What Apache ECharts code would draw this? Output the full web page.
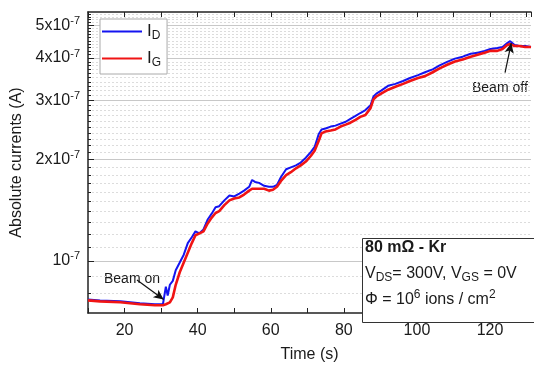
<!DOCTYPE html>
<html>
<head>
<meta charset="utf-8">
<script src="https://cdn.jsdelivr.net/npm/echarts@6/dist/echarts.min.js"></script>
<style>
  html, body { margin: 0; padding: 0; background: #fff; }
  #main { width: 534px; height: 368px; }
</style>
</head>
<body>
<div id="main"></div>
<script>
// time (s)
var time = [10, 13.3, 18.8, 24.2, 28.3, 30.5, 31.0, 31.3, 31.8, 32.4,
    33.2, 34.0, 35.1, 36.2, 37.3, 38.4, 39.4, 40.5, 41.6, 42.7,
    43.8, 44.9, 45.9, 47.3, 48.7, 50.0, 51.4, 52.7, 54.1, 54.9,
    55.7, 56.8, 58.2, 59.5, 60.6, 61.7, 62.8, 64.2, 65.5, 66.9,
    68.2, 69.6, 71.0, 72.0, 73.1, 73.9, 75.0, 76.4, 77.7, 79.1,
    80.5, 81.8, 83.2, 84.5, 85.9, 87.3, 88.1, 88.9, 90.2, 92.1,
    94.1, 96.2, 98.1, 100.3, 102.2, 104.3, 106.2, 108.4, 110.4, 112.5,
    114.7, 116.6, 118.5, 120.1, 122.0, 123.4, 124.7, 125.5, 126.7, 128.0,
    129.6, 131.2];

// drain current I_D (A)
var currentD = [7.68e-8, 7.63e-8, 7.58e-8, 7.48e-8, 7.43e-8, 7.43e-8, 7.48e-8, 8.38e-8, 7.89e-8, 8.49e-8,
    8.72e-8, 9.38e-8, 9.89e-8, 1.043e-7, 1.129e-7, 1.175e-7, 1.223e-7, 1.207e-7, 1.239e-7, 1.324e-7,
    1.378e-7, 1.443e-7, 1.453e-7, 1.512e-7, 1.563e-7, 1.553e-7, 1.584e-7, 1.616e-7, 1.659e-7, 1.738e-7,
    1.715e-7, 1.704e-7, 1.670e-7, 1.659e-7, 1.659e-7, 1.681e-7, 1.773e-7, 1.870e-7, 1.895e-7, 1.920e-7,
    1.958e-7, 2.024e-7, 2.107e-7, 2.178e-7, 2.374e-7, 2.455e-7, 2.471e-7, 2.504e-7, 2.520e-7, 2.554e-7,
    2.588e-7, 2.640e-7, 2.693e-7, 2.747e-7, 2.803e-7, 2.897e-7, 3.075e-7, 3.137e-7, 3.200e-7, 3.308e-7,
    3.352e-7, 3.420e-7, 3.489e-7, 3.558e-7, 3.630e-7, 3.703e-7, 3.802e-7, 3.905e-7, 3.984e-7, 4.038e-7,
    4.119e-7, 4.146e-7, 4.201e-7, 4.257e-7, 4.286e-7, 4.314e-7, 4.430e-7, 4.489e-7, 4.372e-7, 4.343e-7,
    4.343e-7, 4.314e-7];

// gate current I_G (A)
var currentG = [7.63e-8, 7.58e-8, 7.53e-8, 7.43e-8, 7.38e-8, 7.38e-8, 7.38e-8, 7.43e-8, 7.43e-8, 7.53e-8,
    7.79e-8, 8.49e-8, 9.25e-8, 9.89e-8, 1.057e-7, 1.129e-7, 1.191e-7, 1.207e-7, 1.223e-7, 1.289e-7,
    1.342e-7, 1.387e-7, 1.405e-7, 1.463e-7, 1.512e-7, 1.532e-7, 1.542e-7, 1.573e-7, 1.616e-7, 1.637e-7,
    1.637e-7, 1.637e-7, 1.637e-7, 1.616e-7, 1.626e-7, 1.659e-7, 1.727e-7, 1.797e-7, 1.833e-7, 1.882e-7,
    1.920e-7, 1.971e-7, 2.051e-7, 2.121e-7, 2.267e-7, 2.390e-7, 2.422e-7, 2.438e-7, 2.455e-7, 2.504e-7,
    2.537e-7, 2.571e-7, 2.623e-7, 2.676e-7, 2.711e-7, 2.840e-7, 3.015e-7, 3.075e-7, 3.137e-7, 3.222e-7,
    3.286e-7, 3.352e-7, 3.420e-7, 3.489e-7, 3.535e-7, 3.630e-7, 3.728e-7, 3.828e-7, 3.905e-7, 3.958e-7,
    4.038e-7, 4.091e-7, 4.146e-7, 4.201e-7, 4.201e-7, 4.257e-7, 4.372e-7, 4.401e-7, 4.343e-7, 4.343e-7,
    4.314e-7, 4.314e-7];

// y tick labels (major) and minor grid steps
var yMajor = [1e-7, 2e-7, 3e-7, 4e-7, 5e-7];
var yMinor = [8e-8, 9e-8];
for (var k = 11; k <= 54; k++) {
    if (k % 10 !== 0) yMinor.push(k * 1e-8);
}

// arrows: [start time, start current, end time, end current]
var beamOnArrow = [23.4, 8.77e-8, 30.7, 7.68e-8];
var beamOffArrow = [124.1, 3.62e-7, 125.8, 4.43e-7];

var font = 'Liberation Sans, Arial, sans-serif';
var ink = '#1a1a1a';
var dom = document.getElementById('main');
var myChart = echarts.init(dom);

var option = {
    animation: false,
    textStyle: { fontFamily: font },
    grid: { left: 88, top: 12, right: 0, bottom: 46 },
    legend: {
        data: ['ID', 'IG'],
        orient: 'vertical',
        left: 100,
        top: 19,
        padding: [4, 6, 5, 2],
        itemGap: 8,
        itemWidth: 40,
        itemHeight: 2,
        icon: 'rect',
        borderColor: '#aaa',
        borderWidth: 1,
        backgroundColor: '#fff',
        formatter: function (name) {
            return '{m|I}{sub|' + name.charAt(1) + '}';
        },
        textStyle: {
            rich: {
                m: { fontSize: 17, color: ink, fontFamily: font },
                sub: { fontSize: 12, color: ink, fontFamily: font, padding: [9, 0, 0, 0] }
            }
        }
    },
    xAxis: [{
        type: 'value',
        min: 10,
        max: 131.2,
        interval: 10,
        name: 'Time (s)',
        nameLocation: 'middle',
        nameGap: 34,
        nameTextStyle: { fontSize: 16, color: ink, fontFamily: font },
        axisLine: { show: true, lineStyle: { color: '#222', width: 1.5 } },
        axisTick: { inside: true, length: 5, lineStyle: { color: '#222' } },
        axisLabel: {
            fontSize: 16, color: ink, margin: 10, fontFamily: font,
            formatter: function (v) { return v % 20 === 0 ? String(v) : ''; }
        },
        splitLine: { show: false }
    }, {
        type: 'value',
        position: 'top',
        min: 10,
        max: 131.2,
        interval: 10,
        axisLine: { show: true, lineStyle: { color: '#222', width: 1.5 } },
        axisTick: { inside: true, length: 5, lineStyle: { color: '#222' } },
        axisLabel: { show: false },
        splitLine: { show: false }
    }],
    yAxis: [{
        type: 'log',
        logBase: 10,
        min: 7.0e-8,
        max: 5.48e-7,
        name: 'Absolute currents (A)',
        nameLocation: 'middle',
        nameGap: 57,
        nameTextStyle: { fontSize: 16, color: ink, fontFamily: font },
        axisLine: { show: true, lineStyle: { color: '#222', width: 1.5 } },
        axisTick: { inside: true, length: 6, customValues: yMajor, lineStyle: { color: '#222' } },
        axisLabel: {
            customValues: yMajor,
            margin: 8,
            formatter: function (v) {
                var n = Math.round(v / 1e-7);
                return n === 1 ? '{b|10}{s|-7}' : '{b|' + n + 'x10}{s|-7}';
            },
            rich: {
                b: { fontSize: 16, color: ink, fontFamily: font },
                s: { fontSize: 11, color: ink, fontFamily: font, padding: [0, 0, 9, 0] }
            }
        },
        splitLine: { show: true, lineStyle: { color: '#c8c8c8', width: 1 } }
    }, {
        type: 'log',
        logBase: 10,
        min: 7.0e-8,
        max: 5.48e-7,
        position: 'left',
        axisLine: { show: false },
        axisTick: { inside: true, length: 3, customValues: yMinor, lineStyle: { color: '#222' } },
        axisLabel: { show: false, customValues: yMinor },
        splitLine: { show: true, lineStyle: { color: '#dcdcdc', width: 1, type: [2, 2] } }
    }],
    series: [{
        name: 'ID',
        type: 'line',
        data: time.map(function (t, i) { return [t, currentD[i]]; }),
        showSymbol: false,
        color: '#1414f0',
        lineStyle: { width: 2, color: '#1414f0' },
        z: 3
    }, {
        name: 'IG',
        type: 'line',
        data: time.map(function (t, i) { return [t, currentG[i]]; }),
        showSymbol: false,
        color: '#f01414',
        lineStyle: { width: 2.6, color: '#f01414' },
        z: 4,
        markLine: {
            silent: true,
            symbol: ['none', 'arrow'],
            symbolSize: [7, 10],
            label: { show: false },
            lineStyle: { color: '#111', width: 1.2, type: 'solid' },
            data: [
                [{ coord: [beamOnArrow[0], beamOnArrow[1]] }, { coord: [beamOnArrow[2], beamOnArrow[3]] }],
                [{ coord: [beamOffArrow[0], beamOffArrow[1]] }, { coord: [beamOffArrow[2], beamOffArrow[3]] }]
            ]
        }
    }],
    graphic: [{
        type: 'text',
        left: 104,
        top: 272,
        style: { text: 'Beam on', fontSize: 14, fill: ink, fontFamily: font }
    }, {
        type: 'text',
        left: 472,
        top: 81,
        style: { text: 'Beam off', fontSize: 14, fill: ink, fontFamily: font }
    }, {
        type: 'rect',
        shape: { x: 362.5, y: 238.5, width: 200, height: 84 },
        style: { fill: '#fff', stroke: '#333', lineWidth: 1 },
        z: 100
    }, {
        type: 'text',
        left: 365,
        top: 240,
        z: 101,
        style: {
            text: '{bd|80 mΩ - Kr}\n{n|V}{sub|DS}{n|= 300V, V}{sub|GS}{n| = 0V}\n{n|Φ = 10}{sup|6}{n| ions / cm}{sup|2}',
            fill: ink,
            fontFamily: font,
            rich: {
                bd: { fontSize: 16, fontWeight: 'bold', fill: ink, lineHeight: 25, fontFamily: font },
                n: { fontSize: 16, fill: ink, lineHeight: 26, fontFamily: font },
                sub: { fontSize: 12, fill: ink, lineHeight: 26, padding: [9, 0, 0, 0], fontFamily: font },
                sup: { fontSize: 12, fill: ink, lineHeight: 26, padding: [0, 0, 10, 0], fontFamily: font }
            }
        }
    }]
};
myChart.setOption(option);
</script>
</body>
</html>
